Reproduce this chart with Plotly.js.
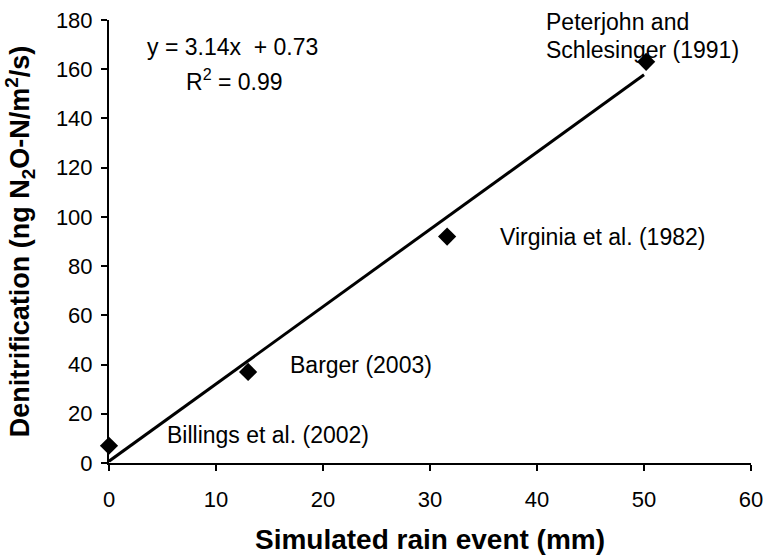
<!DOCTYPE html>
<html>
<head>
<meta charset="utf-8">
<script src="https://cdn.plot.ly/plotly-3.0.1.min.js"></script>
<style>
  html, body { margin: 0; padding: 0; background: #fff; }
  #chart { width: 765px; height: 559px; }
</style>
</head>
<body>
<div id="chart"></div>
<script>
// Observed data points (simulated rain event, mm) vs denitrification
const rainMm = [0, 13, 31.6, 50.2];
const denitrification = [7, 37, 92, 163];
const studyLabels = ["Billings et al. (2002)", "Barger (2003)", "Virginia et al. (1982)", "Peterjohn and Schlesinger (1991)"];

// Linear trend line end points (y = 3.14x + 0.73)
const trendX = [0, 50];
const trendY = [0.73, 157.73];

const xTicks = [0, 10, 20, 30, 40, 50, 60];
const yTicks = [0, 20, 40, 60, 80, 100, 120, 140, 160, 180];

const equationText = "y = 3.14x  + 0.73";
const r2Text = "R<sup>2</sup> = 0.99";

const FONT = "Liberation Sans, Arial, sans-serif";

const traces = [
  {
    x: trendX, y: trendY, type: "scatter", mode: "lines",
    line: { color: "#000", width: 3 }, hoverinfo: "skip", cliponaxis: false
  },
  {
    x: rainMm, y: denitrification, type: "scatter", mode: "markers",
    marker: { symbol: "diamond", size: 14, color: "#000" },
    text: studyLabels, cliponaxis: false
  }
];

function ann(x, y, text, xanchor) {
  return { x: x, y: y, xref: "x", yref: "y", text: text, showarrow: false,
           xanchor: xanchor, yanchor: "middle",
           font: { family: FONT, size: 23, color: "#000" } };
}

const layout = {
  width: 765, height: 559,
  margin: { l: 109, r: 14, t: 20, b: 96 },
  paper_bgcolor: "#fff", plot_bgcolor: "#fff",
  showlegend: false,
  font: { family: FONT, color: "#000" },
  xaxis: {
    range: [0, 60], tickvals: xTicks, ticktext: xTicks.map(String),
    showline: true, linecolor: "#000", linewidth: 2,
    ticks: "outside", ticklen: 6, tickwidth: 2, tickcolor: "#000",
    ticklabelstandoff: 10,
    showgrid: false, zeroline: false,
    tickfont: { family: FONT, size: 22, color: "#000" },
    title: { text: "Simulated rain event (mm)", standoff: 18,
             font: { family: FONT, size: 28, color: "#000", weight: "bold" } }
  },
  yaxis: {
    range: [0, 180], tickvals: yTicks, ticktext: yTicks.map(String),
    showline: true, linecolor: "#000", linewidth: 2,
    ticks: "outside", ticklen: 6, tickwidth: 2, tickcolor: "#000",
    ticklabelstandoff: 4,
    showgrid: false, zeroline: false,
    tickfont: { family: FONT, size: 22, color: "#000" },
    title: { text: "Denitrification (ng N<sub>2</sub>O-N/m<sup>2</sup>/s)", standoff: 18,
             font: { family: FONT, size: 27, color: "#000", weight: "bold" } }
  },
  annotations: [
    ann(11.5, 169, equationText, "center"),
    ann(11.7, 155.6, r2Text, "center"),
    ann(40.7, 179, "Peterjohn and", "left"),
    ann(40.7, 167.8, "Schlesinger (1991)", "left"),
    ann(36.4, 91.8, studyLabels[2], "left"),
    ann(16.7, 39.8, studyLabels[1], "left"),
    ann(5.2, 11.4, studyLabels[0], "left")
  ]
};

Plotly.newPlot("chart", traces, layout, { displayModeBar: false, staticPlot: true });
</script>
</body>
</html>
